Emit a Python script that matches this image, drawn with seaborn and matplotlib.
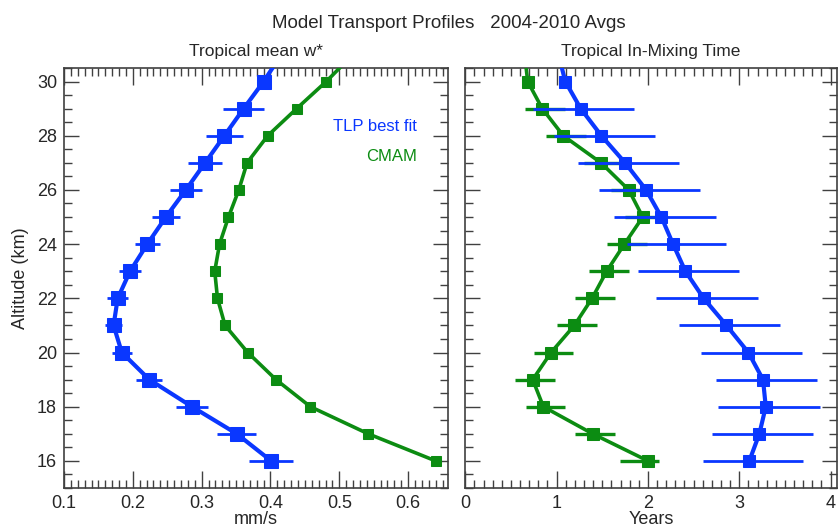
import matplotlib
matplotlib.use('Agg')
import matplotlib.pyplot as plt
import seaborn as sns
import pandas as pd
from matplotlib.ticker import MultipleLocator

# Altitude levels (km); 31 km point only sets the line leaving the top of the frame
altitude = [16, 17, 18, 19, 20, 21, 22, 23, 24, 25, 26, 27, 28, 29, 30, 31]

# Tropical mean w* (mm/s)
w_tlp = [0.401, 0.351, 0.286, 0.224, 0.184, 0.172, 0.178, 0.196, 0.221, 0.248,
         0.277, 0.305, 0.333, 0.361, 0.390, 0.416]
w_tlp_err = [0.032, 0.028, 0.023, 0.019, 0.015, 0.012, 0.015, 0.016, 0.018, 0.020,
             0.023, 0.025, 0.027, 0.030, 0.0, 0.0]
w_cmam = [0.640, 0.542, 0.458, 0.408, 0.367, 0.334, 0.323, 0.319, 0.326, 0.339,
          0.354, 0.366, 0.396, 0.438, 0.481, 0.520]

# Tropical in-mixing time (years)
t_tlp = [3.11, 3.22, 3.29, 3.26, 3.10, 2.86, 2.61, 2.41, 2.275, 2.147,
         1.98, 1.75, 1.49, 1.264, 1.095, 1.02]
t_tlp_lo = [2.60, 2.70, 2.77, 2.74, 2.58, 2.34, 2.09, 1.895, 1.77, 1.63,
            1.46, 1.23, 0.97, 0.745, 1.095, 1.02]
t_tlp_hi = [3.70, 3.81, 3.885, 3.85, 3.69, 3.45, 3.20, 3.00, 2.86, 2.74,
            2.57, 2.34, 2.08, 1.85, 1.095, 1.02]
t_cmam = [2.00, 1.395, 0.855, 0.738, 0.939, 1.194, 1.388, 1.548, 1.742, 1.943,
          1.79, 1.486, 1.073, 0.843, 0.683, 0.65]
t_cmam_lo = [1.69, 1.205, 0.66, 0.548, 0.749, 1.008, 1.20, 1.355, 1.55, 1.75,
             1.60, 1.30, 0.884, 0.657, 0.683, 0.65]
t_cmam_hi = [2.12, 1.643, 1.095, 0.982, 1.18, 1.44, 1.636, 1.79, 1.99, 2.19,
             2.03, 1.72, 1.319, 1.089, 0.683, 0.65]

BLUE = '#0a37ff'
GREEN = '#0c8c12'
FS = 13

sns.set_theme(style='white')
plt.rcParams['font.family'] = ['Liberation Sans', 'DejaVu Sans']

df = pd.DataFrame({'alt': altitude, 'w_tlp': w_tlp, 'w_cmam': w_cmam,
                   't_tlp': t_tlp, 't_cmam': t_cmam})

fig = plt.figure(figsize=(8.39, 5.27), dpi=100)
ax1 = fig.add_axes([0.0763, 0.074, 0.4577, 0.797])
ax2 = fig.add_axes([0.5546, 0.074, 0.4430, 0.797])


def style_axes(ax, major, minor, show_ylabels):
    ax.xaxis.set_major_locator(MultipleLocator(major))
    ax.xaxis.set_minor_locator(MultipleLocator(minor))
    ax.yaxis.set_major_locator(MultipleLocator(2))
    ax.yaxis.set_minor_locator(MultipleLocator(0.5))
    ax.tick_params(which='both', direction='in', top=True, right=True,
                   bottom=True, left=True, color='#404040', width=1.0)
    ax.tick_params(which='major', length=12, labelsize=FS, pad=5)
    ax.tick_params(which='minor', length=5.5)
    ax.tick_params(axis='y', which='major', length=11)
    ax.tick_params(labelleft=show_ylabels)
    for sp in ax.spines.values():
        sp.set_visible(True)
        sp.set_color('#404040')
        sp.set_linewidth(1.2)
    ax.grid(False)


# left panel: w*
ax1.errorbar(w_tlp, altitude, xerr=w_tlp_err, fmt='none', ecolor=BLUE,
             elinewidth=2, capsize=0, zorder=2)
sns.lineplot(data=df, x='w_tlp', y='alt', orient='y', sort=False, ax=ax1,
             color=BLUE, linewidth=3, marker='s', markersize=10,
             markeredgecolor=BLUE, zorder=3)
sns.lineplot(data=df, x='w_cmam', y='alt', orient='y', sort=False, ax=ax1,
             color=GREEN, linewidth=2.6, marker='s', markersize=7,
             markeredgecolor=GREEN, zorder=3)
ax1.set_xlim(0.1, 0.658)
ax1.set_ylim(15, 30.5)
style_axes(ax1, 0.1, 0.01, True)
ax1.set_xticks([0.1, 0.2, 0.3, 0.4, 0.5, 0.6])
ax1.set_xticklabels(['0.1', '0.2', '0.3', '0.4', '0.5', '0.6'])
ax1.set_xlabel('mm/s', fontsize=FS, labelpad=-1)
ax1.set_ylabel('Altitude (km)', fontsize=FS, labelpad=6)
ax1.set_title('Tropical mean w*', fontsize=12.5, pad=8.5)
ax1.text(0.92, 0.86, 'TLP best fit', color=BLUE, fontsize=12,
         ha='right', va='center', transform=ax1.transAxes)
ax1.text(0.92, 0.79, 'CMAM', color=GREEN, fontsize=12,
         ha='right', va='center', transform=ax1.transAxes)

# right panel: in-mixing time
t_tlp_err = [[c - lo for c, lo in zip(t_tlp, t_tlp_lo)],
             [hi - c for c, hi in zip(t_tlp, t_tlp_hi)]]
t_cmam_err = [[c - lo for c, lo in zip(t_cmam, t_cmam_lo)],
              [hi - c for c, hi in zip(t_cmam, t_cmam_hi)]]
ax2.errorbar(t_cmam, altitude, xerr=t_cmam_err, fmt='none', ecolor=GREEN,
             elinewidth=2.4, capsize=0, zorder=2)
sns.lineplot(data=df, x='t_cmam', y='alt', orient='y', sort=False, ax=ax2,
             color=GREEN, linewidth=2.6, marker='s', markersize=8,
             markeredgecolor=GREEN, zorder=3)
ax2.errorbar(t_tlp, altitude, xerr=t_tlp_err, fmt='none', ecolor=BLUE,
             elinewidth=2, capsize=0, zorder=4)
sns.lineplot(data=df, x='t_tlp', y='alt', orient='y', sort=False, ax=ax2,
             color=BLUE, linewidth=3, marker='s', markersize=9,
             markeredgecolor=BLUE, zorder=5)
ax2.set_xlim(0, 4.07)
ax2.set_ylim(15, 30.5)
style_axes(ax2, 1, 0.1, False)
ax2.set_xticks([0, 1, 2, 3, 4])
ax2.set_xlabel('Years', fontsize=FS, labelpad=-1)
ax2.set_ylabel('')
ax2.set_title('Tropical In-Mixing Time', fontsize=12.5, pad=8.5)

fig.text(0.535, 0.955, 'Model Transport Profiles   2004-2010 Avgs',
         fontsize=13.5, ha='center', va='center')

fig.savefig('out.png', dpi=100)
